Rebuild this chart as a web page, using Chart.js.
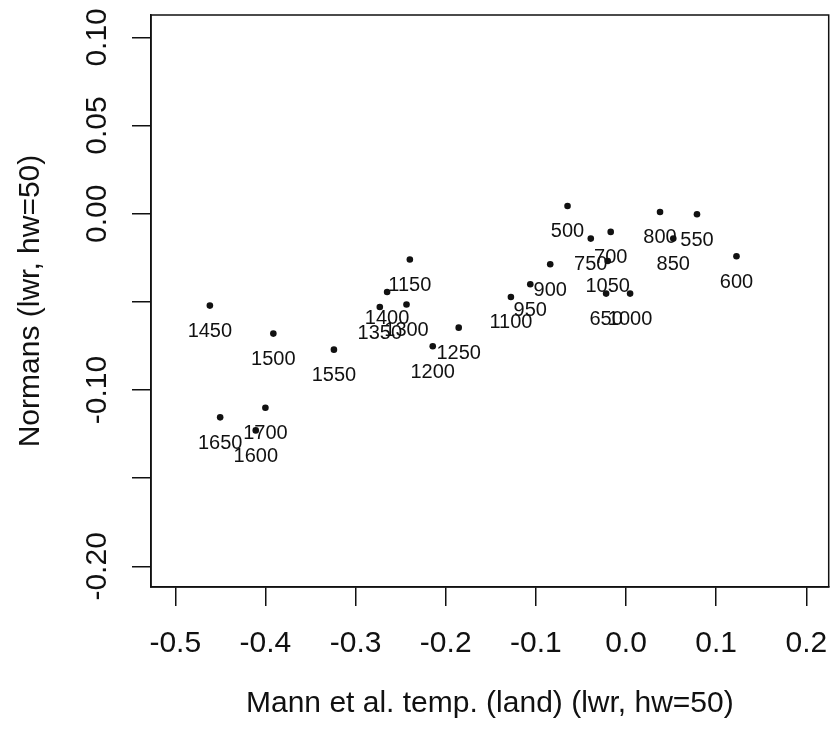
<!DOCTYPE html>
<html>
<head>
<meta charset="utf-8">
<script src="https://cdn.jsdelivr.net/npm/chart.js@4.4.1/dist/chart.umd.min.js"></script>
<style>
  html, body { margin: 0; padding: 0; background: #fff; }
  canvas { display: block; }
</style>
</head>
<body>
<canvas id="chart" width="832" height="732"></canvas>
<script>
// Data
const years = [500, 550, 600, 650, 700, 750, 800, 850, 900, 950, 1000, 1050, 1100,
  1150, 1200, 1250, 1300, 1350, 1400, 1450, 1500, 1550, 1600, 1650, 1700];
const mannTemp = [-0.0649, 0.0787, 0.1225, -0.0221, -0.0170, -0.0391, 0.0377, 0.0524,
  -0.0841, -0.1062, 0.0045, -0.0203, -0.1277, -0.2398, -0.2144, -0.1856, -0.2435,
  -0.2731, -0.2650, -0.4616, -0.3912, -0.3240, -0.4107, -0.4502, -0.4000];
const normans = [0.0044, -0.0003, -0.0241, -0.0453, -0.0103, -0.0141, 0.0010, -0.0141,
  -0.0287, -0.0400, -0.0453, -0.0268, -0.0472, -0.0260, -0.0752, -0.0646, -0.0515,
  -0.0529, -0.0444, -0.0521, -0.0680, -0.0771, -0.1229, -0.1155, -0.1100];

const xTicks = [-0.5, -0.4, -0.3, -0.2, -0.1, 0.0, 0.1, 0.2];
const xTickLabels = ['-0.5', '-0.4', '-0.3', '-0.2', '-0.1', '0.0', '0.1', '0.2'];
const yTicks = [-0.20, -0.15, -0.10, -0.05, 0.00, 0.05, 0.10];
const yTickLabels = ['-0.20', '', '-0.10', '', '0.00', '0.05', '0.10'];

const FONT = '"Liberation Sans", Arial, Helvetica, sans-serif';
const INK = '#111';

// box around the plot region, like R's box()
const boxPlugin = {
  id: 'box',
  afterDraw(chart) {
    const { ctx, chartArea: a } = chart;
    ctx.save();
    ctx.strokeStyle = INK;
    ctx.lineWidth = 1.5;
    ctx.strokeRect(a.left, a.top, a.right - a.left, a.bottom - a.top);
    ctx.restore();
  }
};

// year labels under each point
const pointLabels = {
  id: 'pointLabels',
  afterDatasetsDraw(chart) {
    const { ctx } = chart;
    const meta = chart.getDatasetMeta(0);
    ctx.save();
    ctx.fillStyle = INK;
    ctx.font = '20px ' + FONT;
    ctx.textAlign = 'center';
    ctx.textBaseline = 'middle';
    meta.data.forEach((pt, i) => {
      ctx.fillText(String(years[i]), pt.x, pt.y + 26);
    });
    ctx.restore();
  }
};

new Chart(document.getElementById('chart'), {
  type: 'scatter',
  data: {
    datasets: [{
      data: mannTemp.map((x, i) => ({ x, y: normans[i] })),
      backgroundColor: INK,
      borderWidth: 0,
      pointRadius: 3.3,
      pointHoverRadius: 3.3,
    }]
  },
  options: {
    responsive: false,
    animation: false,
    devicePixelRatio: 1,
    layout: { padding: { top: 15, right: 1, left: 0, bottom: 0 } },
    plugins: { legend: { display: false }, tooltip: { enabled: false } },
    scales: {
      x: {
        type: 'linear',
        min: -0.5269,
        max: 0.2248,
        afterBuildTicks: s => { s.ticks = xTicks.map(v => ({ value: v })); },
        afterFit: s => { s.height = 145; s.paddingLeft = 0; s.paddingRight = 0; },
        grid: { drawOnChartArea: false, drawTicks: true, tickLength: 19, color: INK, lineWidth: 1.5 },
        border: { display: true, color: INK, width: 1.5 },
        ticks: {
          padding: 20,
          color: INK,
          font: { family: FONT, size: 30 },
          maxRotation: 0,
          autoSkip: false,
          callback: (v, i) => xTickLabels[i],
        },
        title: {
          display: true,
          text: 'Mann et al. temp. (land) (lwr, hw=50)',
          color: INK,
          font: { family: FONT, size: 30, lineHeight: 1 },
          padding: { top: 0, bottom: 13 },
        },
      },
      y: {
        type: 'linear',
        min: -0.2117,
        max: 0.1127,
        afterBuildTicks: s => { s.ticks = yTicks.map(v => ({ value: v })); },
        afterFit: s => { s.width = 151; s.paddingTop = 0; s.paddingBottom = 0; },
        grid: { drawOnChartArea: false, drawTicks: true, tickLength: 19, color: INK, lineWidth: 1.5 },
        border: { display: true, color: INK, width: 1.5 },
        ticks: {
          padding: 0,
          color: INK,
          font: { family: FONT, size: 30 },
          minRotation: 90,
          maxRotation: 90,
          crossAlign: 'center',
          autoSkip: false,
          callback: (v, i) => yTickLabels[i],
        },
        title: {
          display: true,
          text: 'Normans (lwr, hw=50)',
          color: INK,
          font: { family: FONT, size: 30, lineHeight: 1 },
          padding: { top: 16, bottom: 0 },
        },
      },
    },
  },
  plugins: [boxPlugin, pointLabels],
});
</script>
</body>
</html>
